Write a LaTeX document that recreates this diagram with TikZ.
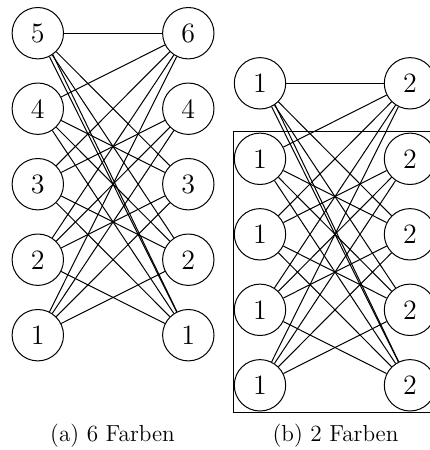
\documentclass[tikz,border=0pt]{standalone}
\usetikzlibrary{fit}
\newcommand{\vlab}[1]{\fontsize{14}{17}\selectfont #1}
\newcommand{\clab}[1]{\fontsize{11.6}{14}\selectfont #1}
\tikzset{
  vert/.style={draw, circle, line width=0.5pt, minimum size=25.7pt, inner sep=0pt},
  edg/.style={line width=0.5pt},
  captext/.style={anchor=base, inner sep=0pt}
}
\begin{document}
\begin{tikzpicture}[x=0.5pt, y=-0.5pt]
\useasboundingbox (0,0) rectangle (429,450);
% (a)
\node[vert] (aL0) at (37.8,33.2) {\vlab{5}};
\node[vert] (aL1) at (37.8,108.7) {\vlab{4}};
\node[vert] (aL2) at (37.8,184.2) {\vlab{3}};
\node[vert] (aL3) at (37.8,259.7) {\vlab{2}};
\node[vert] (aL4) at (37.8,335.2) {\vlab{1}};
\node[vert] (aR0) at (188.3,33.2) {\vlab{6}};
\node[vert] (aR1) at (188.3,108.7) {\vlab{4}};
\node[vert] (aR2) at (188.3,184.2) {\vlab{3}};
\node[vert] (aR3) at (188.3,259.7) {\vlab{2}};
\node[vert] (aR4) at (188.3,335.2) {\vlab{1}};
% (b)
\node[vert] (bL0) at (260,83.3) {\vlab{1}};
\node[vert] (bL1) at (260,158.8) {\vlab{1}};
\node[vert] (bL2) at (260,234.3) {\vlab{1}};
\node[vert] (bL3) at (260,309.8) {\vlab{1}};
\node[vert] (bL4) at (260,385.3) {\vlab{1}};
\node[vert] (bR0) at (410,83.3) {\vlab{2}};
\node[vert] (bR1) at (410,158.8) {\vlab{2}};
\node[vert] (bR2) at (410,234.3) {\vlab{2}};
\node[vert] (bR3) at (410,309.8) {\vlab{2}};
\node[vert] (bR4) at (410,385.3) {\vlab{2}};
\node[draw, line width=0.5pt, fit=(bL1)(bR4), inner sep=0.4pt] (box) {};
% edges
\foreach \g in {a,b}{
  \foreach \i in {1,...,4}{
    \foreach \j in {1,...,4}{
      \ifnum\i=\j\relax\else\draw[edg] (\g L\i) -- (\g R\j);\fi
    }
  }
  \foreach \i in {0,...,4}{\draw[edg] (\g R0) -- (\g L\i);}
  \foreach \j in {2,3,4}{\draw[edg] (\g L0) -- (\g R\j);}
  \draw[edg] (\g L0.-55) -- (\g R4);
}
% captions
\node[captext] (capa) at (112.5,441) {\clab{(a) 6 Farben}};
\node[captext] (capb) at (335.5,441) {\clab{(b) 2 Farben}};
\end{tikzpicture}
\end{document}
